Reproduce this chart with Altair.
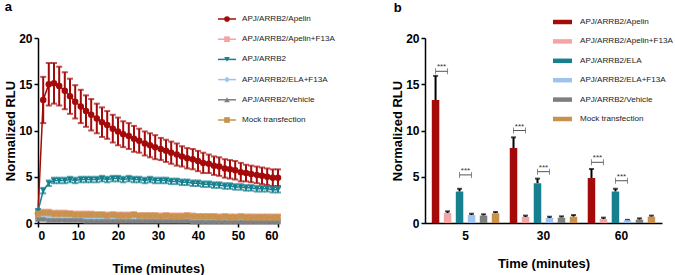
import altair as alt
import pandas as pd

# ---------------- data: panel a (time course) ----------------
series_a = ["APJ/ARRB2/Apelin", "APJ/ARRB2/Apelin+F13A", "APJ/ARRB2",
            "APJ/ARRB2/ELA+F13A", "APJ/ARRB2/Vehicle", "Mock transfection"]
colors = ["#A50A0A", "#F5A3A3", "#17808F", "#9CC4EE", "#7F7F7F", "#C9924C"]
shapes_a = ["circle", "square", "triangle-down", "diamond", "triangle-up", "square"]
sizes_a = [42, 26, 34, 30, 28, 26]

time_min = [0, 1.3, 2.7, 4, 5.3, 6.7, 8, 9.3, 10.7, 12, 13.3, 14.7, 16, 17.3, 18.7, 20,
            21.3, 22.7, 24, 25.3, 26.7, 28, 29.3, 30.7, 32, 33.3, 34.7, 36, 37.3, 38.7, 40,
            41.3, 42.7, 44, 45.3, 46.7, 48, 49.3, 50.7, 52, 53.3, 54.7, 56, 57.3, 58.7, 60]

apelin_mean = [1.0, 13.3, 15.0, 15.1, 14.8, 14.3, 13.7, 13.1, 12.6, 12.1, 11.7, 11.3, 10.9, 10.6,
               10.2, 9.9, 9.6, 9.4, 9.1, 8.9, 8.6, 8.4, 8.2, 8.0, 7.8, 7.6, 7.4, 7.2, 7.0, 6.9,
               6.7, 6.5, 6.4, 6.2, 6.1, 5.9, 5.8, 5.7, 5.5, 5.4, 5.3, 5.2, 5.1, 5.0, 4.9, 4.9]
apelin_err = [0.1, 2.5, 2.3, 2.2, 2.1, 2.0, 1.9, 1.8, 1.8, 1.7, 1.7, 1.6, 1.6, 1.5, 1.5, 1.5,
              1.4, 1.4, 1.4, 1.3, 1.3, 1.3, 1.3, 1.2, 1.2, 1.2, 1.2, 1.1, 1.1, 1.1, 1.1, 1.1,
              1.0, 1.0, 1.0, 1.0, 1.0, 1.0, 1.0, 0.9, 0.9, 0.9, 0.9, 0.9, 0.9, 0.9]
apelin_f13a_mean = [1.1, 1.2, 1.2, 1.1, 1.1, 1.1, 1.0, 1.0, 1.0, 1.0, 1.0, 0.9, 0.9, 0.9, 0.9, 0.9,
                    0.9, 0.9, 0.9, 0.8, 0.8, 0.8, 0.8, 0.8, 0.8, 0.8, 0.8, 0.8, 0.8, 0.8, 0.7, 0.7,
                    0.7, 0.7, 0.7, 0.7, 0.7, 0.7, 0.7, 0.7, 0.7, 0.7, 0.7, 0.7, 0.7, 0.7]
ela_mean = [1.3, 3.5, 4.3, 4.6, 4.6, 4.6, 4.7, 4.6, 4.7, 4.7, 4.7, 4.7, 4.8, 4.7, 4.8, 4.8,
            4.7, 4.8, 4.7, 4.7, 4.6, 4.7, 4.6, 4.6, 4.6, 4.5, 4.5, 4.4, 4.4, 4.3, 4.3, 4.2,
            4.2, 4.1, 4.1, 4.0, 4.0, 3.9, 3.9, 3.8, 3.8, 3.7, 3.7, 3.7, 3.6, 3.6]
ela_err = [0.2, 0.3, 0.3, 0.3, 0.3, 0.3, 0.3, 0.3, 0.3, 0.3, 0.3, 0.3, 0.3, 0.3, 0.3, 0.3,
           0.3, 0.3, 0.3, 0.3, 0.3, 0.3, 0.3, 0.3, 0.3, 0.3, 0.3, 0.3, 0.3, 0.3, 0.3, 0.3,
           0.3, 0.3, 0.3, 0.3, 0.3, 0.3, 0.3, 0.3, 0.3, 0.3, 0.3, 0.3, 0.3, 0.3]
ela_f13a_mean = [0.6, 0.6, 0.6, 0.5, 0.5, 0.5, 0.5, 0.4, 0.4, 0.4, 0.4, 0.4, 0.4, 0.4, 0.4, 0.4,
                 0.3, 0.4, 0.3, 0.3, 0.3, 0.3, 0.3, 0.3, 0.3, 0.3, 0.3, 0.3, 0.3, 0.3, 0.3, 0.3,
                 0.3, 0.3, 0.3, 0.3, 0.3, 0.2, 0.2, 0.2, 0.2, 0.2, 0.2, 0.2, 0.2, 0.2]
vehicle_mean = [0.4, 0.4, 0.3, 0.3, 0.3, 0.3, 0.3, 0.3, 0.3, 0.2, 0.2, 0.2, 0.2, 0.2, 0.2, 0.2,
                0.2, 0.2, 0.2, 0.2, 0.2, 0.2, 0.2, 0.2, 0.2, 0.2, 0.2, 0.2, 0.2, 0.1, 0.1, 0.1,
                0.1, 0.1, 0.1, 0.1, 0.1, 0.1, 0.1, 0.1, 0.1, 0.1, 0.1, 0.1, 0.1, 0.1]
mock_mean = [1.0, 1.1, 1.1, 1.0, 1.0, 1.0, 1.0, 0.9, 0.9, 0.9, 0.9, 0.9, 0.9, 0.8, 0.9, 0.8,
             0.8, 0.8, 0.9, 0.8, 0.8, 0.8, 0.8, 0.7, 0.8, 0.7, 0.7, 0.7, 0.8, 0.7, 0.7, 0.7,
             0.7, 0.7, 0.6, 0.7, 0.6, 0.6, 0.7, 0.6, 0.6, 0.6, 0.6, 0.6, 0.6, 0.6]
small_err = [0.25, 0.25, 0.25, 0.25, 0.25, 0.25, 0.25, 0.25, 0.25, 0.25, 0.25, 0.25, 0.25, 0.25,
             0.25, 0.25, 0.25, 0.25, 0.25, 0.25, 0.25, 0.25, 0.25, 0.25, 0.25, 0.25, 0.25, 0.25,
             0.25, 0.25, 0.25, 0.25, 0.25, 0.25, 0.25, 0.25, 0.25, 0.25, 0.25, 0.25, 0.25, 0.25,
             0.25, 0.25, 0.25, 0.25]
tiny_err = [0.12, 0.12, 0.12, 0.12, 0.12, 0.12, 0.12, 0.12, 0.12, 0.12, 0.12, 0.12, 0.12, 0.12,
            0.12, 0.12, 0.12, 0.12, 0.12, 0.12, 0.12, 0.12, 0.12, 0.12, 0.12, 0.12, 0.12, 0.12,
            0.12, 0.12, 0.12, 0.12, 0.12, 0.12, 0.12, 0.12, 0.12, 0.12, 0.12, 0.12, 0.12, 0.12,
            0.12, 0.12, 0.12, 0.12]

means_a = [apelin_mean, apelin_f13a_mean, ela_mean, ela_f13a_mean, vehicle_mean, mock_mean]
errs_a = [apelin_err, small_err, ela_err, tiny_err, tiny_err, small_err]

# ---------------- data: panel b (bars) ----------------
series_b = ["APJ/ARRB2/Apelin", "APJ/ARRB2/Apelin+F13A", "APJ/ARRB2/ELA",
            "APJ/ARRB2/ELA+F13A", "APJ/ARRB2/Vehicle", "Mock transfection"]
times_b = ["5", "30", "60"]
bar_mean = {
    "5":  [13.3, 1.08, 3.4, 0.86, 0.8, 1.05],
    "30": [8.1, 0.65, 4.3, 0.54, 0.58, 0.68],
    "60": [4.86, 0.43, 3.4, 0.3, 0.36, 0.68],
}
bar_top = {
    "5":  [15.9, 1.26, 3.7, 1.0, 0.94, 1.19],
    "30": [9.26, 0.8, 4.8, 0.68, 0.72, 0.86],
    "60": [5.84, 0.58, 3.7, 0.34, 0.5, 0.8],
}
# significance brackets: (time, left series, right series, height)
bracket_time = ["5", "5", "30", "30", "60", "60"]
bracket_left = ["APJ/ARRB2/Apelin", "APJ/ARRB2/ELA"] * 3
bracket_right = ["APJ/ARRB2/Apelin+F13A", "APJ/ARRB2/ELA+F13A"] * 3
bracket_y = [16.4, 5.2, 10.0, 5.55, 6.56, 4.57]

# ---------------- tables ----------------
rows = []
for s, m, e in zip(series_a, means_a, errs_a):
    for t, v, ee in zip(time_min, m, e):
        rows.append({"series": s, "t": t, "mean": v, "lo": v - ee, "hi": v + ee})
df_a = pd.DataFrame(rows)
df_leg_a = pd.DataFrame({"series": series_a})

rows = []
for tm in times_b:
    for s, v, tp in zip(series_b, bar_mean[tm], bar_top[tm]):
        rows.append({"time": tm, "series": s, "mean": v, "top": tp})
df_b = pd.DataFrame(rows)
df_leg_b = pd.DataFrame({"series": series_b})

rows = []
star_rows = []
for i, (tm, l, r, y) in enumerate(zip(bracket_time, bracket_left, bracket_right, bracket_y)):
    rows.append({"bid": i, "time": tm, "series": l, "y": y, "o": 0})
    rows.append({"bid": i, "time": tm, "series": r, "y": y, "o": 1})
    star_rows.append({"time": tm, "series": l, "y": y})
df_br = pd.DataFrame(rows)
df_star = pd.DataFrame(star_rows)

FONT = "Liberation Sans"
LEG_SIZE = 8.1

# ---------------- panel a ----------------
x_a = alt.X("t:Q", scale=alt.Scale(domain=[0, 60], nice=False),
            axis=alt.Axis(values=[0, 10, 20, 30, 40, 50, 60], title="Time (minutes)",
                          labelPadding=3, titlePadding=21))
y_scale = alt.Scale(domain=[0, 20], nice=False)
y_axis = alt.Axis(values=[0, 5, 10, 15, 20], title="Normalized RLU", titlePadding=1)

layers_a = []
for s, c, sh, sz in zip(series_a, colors, shapes_a, sizes_a):
    b = alt.Chart(df_a).transform_filter(alt.datum.series == s)
    layers_a.append(b.mark_rule(color=c, strokeWidth=2).encode(
        x=x_a, y=alt.Y("lo:Q", scale=y_scale, axis=y_axis), y2="hi:Q"))
    layers_a.append(b.mark_tick(color=c, orient="horizontal", size=6, thickness=2).encode(
        x=x_a, y=alt.Y("hi:Q", scale=y_scale, axis=y_axis)))
    layers_a.append(b.mark_tick(color=c, orient="horizontal", size=6, thickness=2).encode(
        x=x_a, y=alt.Y("lo:Q", scale=y_scale, axis=y_axis)))
    layers_a.append(b.mark_line(color=c, strokeWidth=1.5).encode(
        x=x_a, y=alt.Y("mean:Q", scale=y_scale, axis=y_axis)))
    layers_a.append(b.mark_point(color=c, shape=sh, filled=True, opacity=1, size=sz).encode(
        x=x_a, y=alt.Y("mean:Q", scale=y_scale, axis=y_axis)))

data_a = alt.layer(*layers_a)

color_a = alt.Color("series:N", scale=alt.Scale(domain=series_a, range=colors), legend=None)
shape_a = alt.Shape("series:N", scale=alt.Scale(domain=series_a, range=shapes_a), legend=None)
leg_y_a = alt.Y("series:N", scale=alt.Scale(type="point", domain=series_a, range=[-19, 82], padding=0),
                axis=None)
leg_a_base = alt.Chart(df_leg_a)
legend_a = alt.layer(
    leg_a_base.mark_rule(strokeWidth=1.5).encode(
        x=alt.value(180), x2=alt.value(198), y=leg_y_a, color=color_a),
    leg_a_base.mark_point(filled=True, opacity=1, size=32).encode(
        x=alt.value(189), y=leg_y_a, color=color_a, shape=shape_a),
    leg_a_base.mark_text(align="left", baseline="middle", font=FONT, fontSize=LEG_SIZE, color="#222").encode(
        x=alt.value(204), y=leg_y_a, text="series:N"),
)

panel_a = alt.layer(data_a, legend_a).resolve_scale(y="independent").properties(
    width=240, height=185,
    title=alt.TitleParams("a", anchor="start", fontSize=13, fontWeight="bold", font=FONT, offset=1),
)

# ---------------- panel b ----------------
x_b = alt.X("time:N", sort=times_b, scale=alt.Scale(paddingInner=0, paddingOuter=0.02),
            axis=alt.Axis(title="Time (minutes)", ticks=False, labelAngle=0, labelPadding=7,
                          titlePadding=16))
xo_b = alt.XOffset("series:N", sort=series_b,
                   scale=alt.Scale(domain=series_b, paddingInner=0.375, paddingOuter=0.4375))
color_b = alt.Color("series:N", scale=alt.Scale(domain=series_b, range=colors), legend=None)
yb_scale = alt.Scale(domain=[0, 20], nice=False)

bb = alt.Chart(df_b)
data_b = alt.layer(
    bb.mark_rule(color="black", strokeWidth=2).encode(
        x=x_b, xOffset=xo_b, y=alt.Y("mean:Q", scale=yb_scale, axis=y_axis), y2="top:Q"),
    bb.mark_tick(color="black", orient="horizontal", size=5, thickness=2).encode(
        x=x_b, xOffset=xo_b, y=alt.Y("top:Q", scale=yb_scale, axis=y_axis)),
    bb.mark_bar().encode(
        x=x_b, xOffset=xo_b, y=alt.Y("mean:Q", scale=yb_scale, axis=y_axis), color=color_b),
    alt.Chart(df_br).mark_line(color="#555", strokeWidth=1).encode(
        x=x_b, xOffset=xo_b, y=alt.Y("y:Q", scale=yb_scale, axis=y_axis),
        detail="bid:N", order="o:Q"),
    alt.Chart(df_br).mark_tick(color="#555", orient="vertical", size=6, thickness=1).encode(
        x=x_b, xOffset=xo_b, y=alt.Y("y:Q", scale=yb_scale, axis=y_axis)),
    alt.Chart(df_star).mark_text(text="***", fontSize=8, dx=6, dy=-4, color="#333", font=FONT).encode(
        x=x_b, xOffset=xo_b, y=alt.Y("y:Q", scale=yb_scale, axis=y_axis)),
)

leg_y_b = alt.Y("series:N", scale=alt.Scale(type="point", domain=series_b, range=[-16, 81], padding=0),
                axis=None)
leg_b_base = alt.Chart(df_leg_b)
legend_b = alt.layer(
    leg_b_base.mark_rule(strokeWidth=4.5).encode(
        x=alt.value(128), x2=alt.value(147), y=leg_y_b, color=color_b),
    leg_b_base.mark_text(align="left", baseline="middle", font=FONT, fontSize=LEG_SIZE, color="#222").encode(
        x=alt.value(155), y=leg_y_b, text="series:N"),
)

panel_b = alt.layer(data_b, legend_b).resolve_scale(y="independent").properties(
    width=237, height=185,
    title=alt.TitleParams("b", anchor="start", fontSize=13, fontWeight="bold", font=FONT,
                          offset=3, dx=2),
)

chart = alt.hconcat(panel_a, panel_b, spacing=147, bounds="flush").resolve_scale(
    color="independent", shape="independent"
).properties(
    padding={"left": 4, "top": 1, "right": 0, "bottom": 0}
).configure_view(stroke=None).configure_axis(
    domainColor="black", domainWidth=1.5, tickColor="black", tickWidth=1.5, tickSize=4,
    labelFont=FONT, labelFontWeight="bold", labelFontSize=12, labelColor="black", labelPadding=2,
    titleFont=FONT, titleFontWeight="bold", titleFontSize=13, titleColor="black", grid=False,
)

chart.save("out.html", embed_options={"renderer": "svg", "actions": False})
